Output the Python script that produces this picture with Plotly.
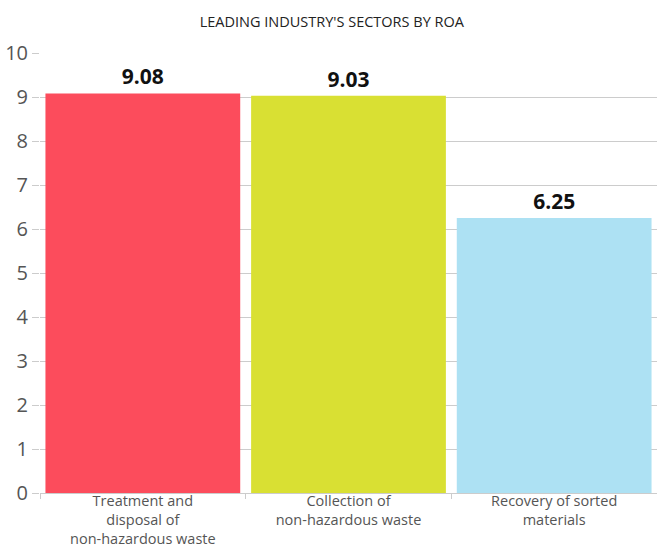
import plotly.graph_objects as go

categories = ["Treatment and<br>disposal of<br>non-hazardous waste",
              "Collection of<br>non-hazardous waste",
              "Recovery of sorted<br>materials"]
values = [9.08, 9.03, 6.25]
colors = ["#FC4C5C", "#D9E033", "#ADE1F3"]

fig = go.Figure(go.Bar(
    x=categories, y=values, marker_color=colors, marker_line_width=0,
    text=[f"<b>{v:.2f}</b>" for v in values], textposition="outside",
    textfont=dict(size=21, color="#111", family="Open Sans"),
    cliponaxis=False,
))
fig.update_layout(
    width=657, height=549,
    margin=dict(l=40, r=0, t=53, b=56, autoexpand=False),
    paper_bgcolor="white", plot_bgcolor="white",
    bargap=0.053,
    title=dict(text="LEADING INDUSTRY'S SECTORS BY ROA", x=0.505, xanchor="center",
               y=0.96, yanchor="middle",
               font=dict(size=14.5, color="#222", family="Open Sans")),
    font=dict(family="Open Sans"),
    showlegend=False,
)
fig.update_yaxes(range=[0, 10], dtick=1, showgrid=True, gridcolor="#cccccc",
                 ticks="outside", ticklen=7, tickcolor="#cccccc",
                 tickfont=dict(size=20, color="#555"), zeroline=False,
                 showline=False, automargin=False)
fig.update_xaxes(showline=True, linecolor="#cccccc", ticks="outside",
                 tickson="boundaries", ticklen=5, tickcolor="#cccccc",
                 tickfont=dict(size=14.5, color="#555"), automargin=False,
                 ticklabelstandoff=-5)
fig.write_html("out.html", config={"displayModeBar": False},
               post_script="document.body.style.margin='0';")
